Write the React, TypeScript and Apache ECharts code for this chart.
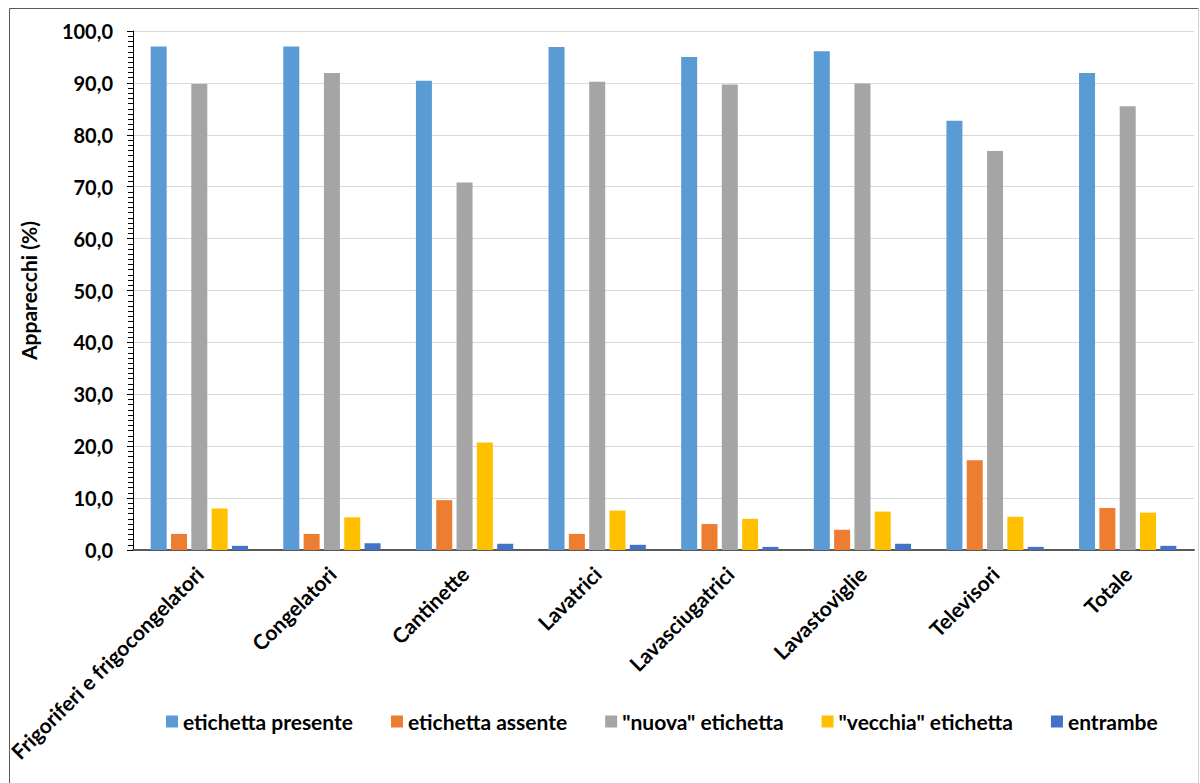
import React, { useEffect, useRef } from "react";
import * as echarts from "echarts";

const categories = [
  "Frigoriferi e frigocongelatori",
  "Congelatori",
  "Cantinette",
  "Lavatrici",
  "Lavasciugatrici",
  "Lavastoviglie",
  "Televisori",
  "Totale",
];

const seriesNames = [
  "etichetta presente",
  "etichetta assente",
  "\"nuova\" etichetta",
  "\"vecchia\" etichetta",
  "entrambe",
];

const etichettaPresente = [97.0, 97.0, 90.4, 96.9, 95.0, 96.1, 82.7, 91.9];
const etichettaAssente = [3.1, 3.1, 9.6, 3.1, 5.0, 3.9, 17.3, 8.1];
const nuovaEtichetta = [89.8, 91.9, 70.8, 90.2, 89.7, 89.9, 76.9, 85.5];
const vecchiaEtichetta = [8.0, 6.3, 20.7, 7.6, 6.0, 7.4, 6.4, 7.2];
const entrambe = [0.8, 1.3, 1.2, 1.0, 0.6, 1.2, 0.6, 0.8];

const colors = ["#5B9BD5", "#ED7D31", "#A5A5A5", "#FFC000", "#4472C4"];

const FONT = "Lato, 'Open Sans', sans-serif";

export default function App() {
  const ref = useRef<HTMLDivElement>(null);
  useEffect(() => {
    if (!ref.current) return;
    const chart = echarts.init(ref.current, null, { renderer: "svg" });
    const data = [etichettaPresente, etichettaAssente, nuovaEtichetta, vecchiaEtichetta, entrambe];
    chart.setOption({
      animation: false,
      backgroundColor: "#ffffff",
      textStyle: { fontFamily: FONT },
      color: colors,
      grid: { left: 133, right: 6, top: 31, bottom: 233, containLabel: false },
      legend: {
        data: seriesNames,
        left: 161,
        top: 706,
        itemWidth: 12,
        itemHeight: 12,
        itemGap: 38,
        icon: "rect",
        textStyle: { fontFamily: FONT, fontSize: 21, fontWeight: "bold", color: "#000" },
      },
      xAxis: {
        type: "category",
        data: categories,
        axisLine: { show: true, lineStyle: { color: "#595959", width: 2 } },
        axisTick: { show: false },
        axisLabel: {
          interval: 0,
          rotate: 45,
          margin: 20,
          fontFamily: FONT,
          fontSize: 21,
          fontWeight: "bold",
          color: "#000",
        },
      },
      yAxis: {
        type: "value",
        min: 0,
        max: 100,
        interval: 10,
        name: "Apparecchi (%)",
        nameLocation: "middle",
        nameGap: 94,
        nameTextStyle: { fontFamily: FONT, fontSize: 21, fontWeight: "bold", color: "#000" },
        axisLine: { show: true, lineStyle: { color: "#000", width: 1 } },
        axisTick: { show: true, length: 6, lineStyle: { color: "#000" } },
        minorTick: { show: true, splitNumber: 10, length: 5, lineStyle: { color: "#000" } },
        splitLine: { show: true, lineStyle: { color: "#d9d9d9", width: 1 } },
        axisLabel: {
          margin: 20,
          fontFamily: FONT,
          fontSize: 20,
          fontWeight: "bold",
          color: "#000",
          formatter: (v: number) => v.toFixed(1).replace(".", ","),
        },
      },
      series: seriesNames.map((name, i) => ({
        name,
        type: "bar",
        data: data[i],
        barWidth: 16,
        barGap: "27%",
        itemStyle: { color: colors[i] },
      })),
      graphic: [
        { type: "line", shape: { x1: 9.5, y1: 8.5, x2: 1198.5, y2: 8.5 }, style: { stroke: "#595959", lineWidth: 1 } },
        { type: "line", shape: { x1: 9.5, y1: 8.5, x2: 9.5, y2: 783 }, style: { stroke: "#595959", lineWidth: 1 } },
        { type: "line", shape: { x1: 1198.5, y1: 8.5, x2: 1198.5, y2: 783 }, style: { stroke: "#d0d0d0", lineWidth: 1 } },
      ],
    });
    return () => chart.dispose();
  }, []);
  return (
    <div
      ref={ref}
      style={{ position: "fixed", left: 0, top: 0, width: 1200, height: 783 }}
    />
  );
}
